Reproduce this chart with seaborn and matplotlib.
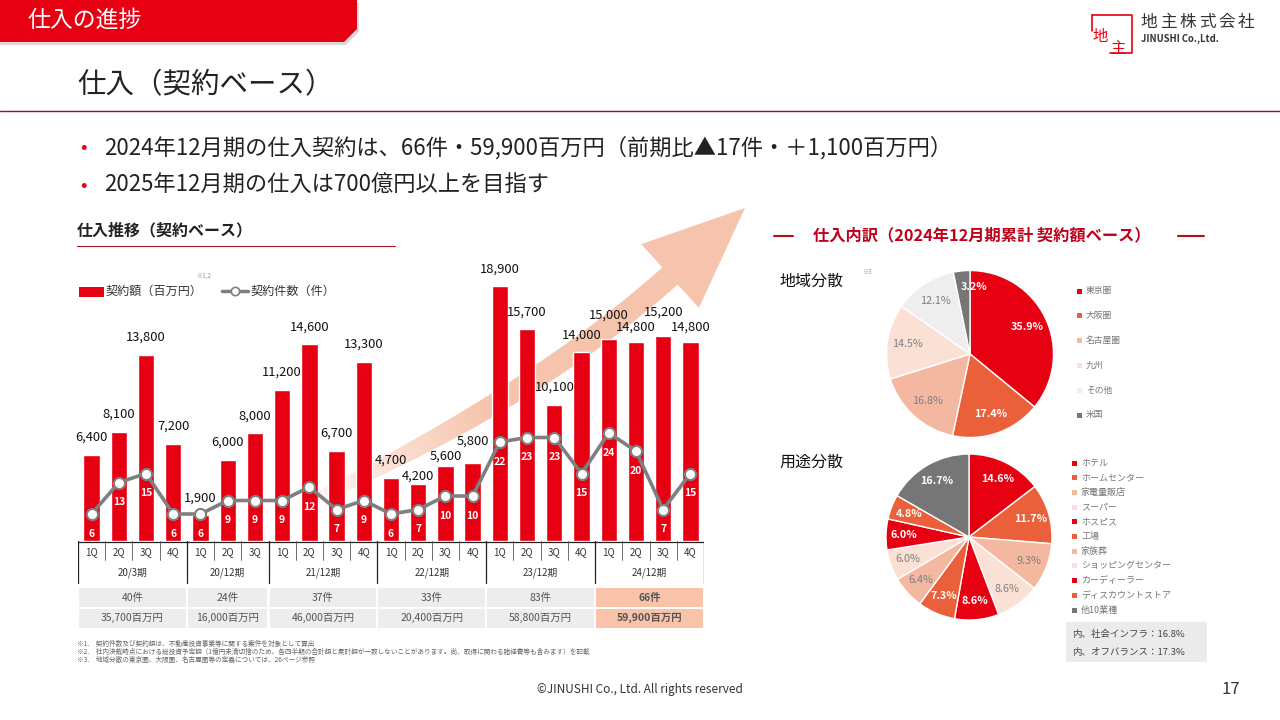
import numpy as np
import pandas as pd
import matplotlib.pyplot as plt
import seaborn as sns
from matplotlib.patches import Polygon, Rectangle

# 四半期ごとの仕入データ（契約ベース）
quarters = ['1Q', '2Q', '3Q', '4Q',
            '1Q', '2Q', '3Q',
            '1Q', '2Q', '3Q', '4Q',
            '1Q', '2Q', '3Q', '4Q',
            '1Q', '2Q', '3Q', '4Q',
            '1Q', '2Q', '3Q', '4Q']
periods = ['20/3期', '20/12期', '21/12期', '22/12期', '23/12期', '24/12期']
period_len = [4, 3, 4, 4, 4, 4]
amounts = [6400, 8100, 13800, 7200,
           1900, 6000, 8000,
           11200, 14600, 6700, 13300,
           4700, 4200, 5600, 5800,
           18900, 15700, 10100, 14000,
           15000, 14800, 15200, 14800]
counts = [6, 13, 15, 6,
          6, 9, 9,
          9, 12, 7, 9,
          6, 7, 10, 10,
          22, 23, 23, 15,
          24, 20, 7, 15]
period_counts = ['40件', '24件', '37件', '33件', '83件', '66件']
period_amounts = ['35,700百万円', '16,000百万円', '46,000百万円',
                  '20,400百万円', '58,800百万円', '59,900百万円']

# 仕入内訳
region_labels = ['東京圏', '大阪圏', '名古屋圏', '九州', 'その他', '米国']
region_share = [35.9, 17.4, 16.8, 14.5, 12.1, 3.2]
use_labels = ['ホテル', 'ホームセンター', '家電量販店', 'スーパー', 'ホスピス', '工場',
              '家族葬', 'ショッピングセンター', 'カーディーラー', 'ディスカウントストア', '他10業種']
use_share = [14.6, 11.7, 9.3, 8.6, 8.6, 7.3, 6.4, 6.0, 6.0, 4.8, 16.7]

# 色
RED = '#E60012'
ORANGE = '#E9603A'
SALMON = '#F4B8A0'
PALE = '#FBE1D5'
LGRAY = '#EEEEEE'
DGRAY = '#767676'
DARKRED = '#B0101A'

sns.set_style('white')
plt.rcParams['font.family'] = ['Noto Sans CJK JP', 'DejaVu Sans']

W, H = 1280, 720
fig = plt.figure(figsize=(12.8, 7.2), dpi=100)

# 背景用の軸（ピクセル座標）
bg = fig.add_axes([0, 0, 1, 1])
bg.set_zorder(0)
bg.axis('off')


def px_axes(x0, y0, x1, y1):
    return fig.add_axes([x0 / W, 1 - y1 / H, (x1 - x0) / W, (y1 - y0) / H])


def txt(x, y, s, **kw):
    kw.setdefault('va', 'center')
    kw.setdefault('color', '#333333')
    bg.text(x, y, s, **kw)


# ヘッダー
shadow = Polygon([(0, 3), (359, 3), (359, 32), (346, 45), (0, 45)], closed=True,
                 facecolor='#999999', alpha=0.35, edgecolor='none')
bg.add_patch(shadow)
banner = Polygon([(0, 0), (357, 0), (357, 29), (344, 42), (0, 42)], closed=True,
                 facecolor=RED, edgecolor='none')
bg.add_patch(banner)
txt(27, 20, '仕入の進捗', color='white', fontsize=16.5)
txt(77, 85, '仕入（契約ベース）', color='#222222', fontsize=20.5)
bg.plot([0, 1280], [111, 111], color='#C00000', lw=1)

# ロゴ
bg.plot([1092, 1092], [31, 15], color=RED, lw=1.2)
bg.plot([1092, 1132, 1132, 1110], [15, 15, 53, 53], color=RED, lw=1.2)
txt(1100, 36, '地', color=RED, fontsize=11, ha='center')
txt(1118, 48, '主', color=RED, fontsize=11, ha='center')
for k, ch in enumerate('地主株式会社'):
    txt(1149 + k * 19.5, 22, ch, fontsize=12, color='#333333', ha='center')
txt(1141, 39, 'JINUSHI Co.,Ltd.', fontsize=6.8, fontweight='bold', color='#333333')

# 箇条書き
txt(80, 148, '•', color=RED, fontsize=14)
txt(104, 148, '2024年12月期の仕入契約は、66件・59,900百万円（前期比▲17件・＋1,100百万円）',
    fontsize=16, color='#222222')
txt(80, 185, '•', color=RED, fontsize=14)
txt(104, 185, '2025年12月期の仕入は700億円以上を目指す', fontsize=16, color='#222222')

# 左：仕入推移
txt(77, 230, '仕入推移（契約ベース）', fontsize=11.5, fontweight='bold', color='#222222')
bg.plot([77, 395], [246, 246], color=DARKRED, lw=0.8)
bg.add_patch(Rectangle((79, 287), 25, 10, facecolor=RED, edgecolor='none'))
txt(106, 291, '契約額（百万円）', fontsize=8.7)
txt(196, 276, '※1,2', fontsize=4.5, color='#999999')
bg.plot([222, 248], [291, 291], color='#7F7F7F', lw=2.5)
bg.plot([235], [291], marker='o', markersize=6, markerfacecolor='white',
        markeredgecolor='#7F7F7F', markeredgewidth=1.2)
txt(251, 291, '契約件数（件）', fontsize=8.7)

# 右上がりの矢印（グラデーション）
P0 = np.array([295., 508.])
C = np.array([529., 402.])
P1 = np.array([670., 276.])
tip = np.array([745., 208.])
t = np.linspace(0, 1, 80)[:, None]
pts = (1 - t) ** 2 * P0 + 2 * (1 - t) * t * C + t ** 2 * P1
der = 2 * (1 - t) * (C - P0) + 2 * t * (P1 - C)
der = der / np.linalg.norm(der, axis=1)[:, None]
nrm = np.column_stack([-der[:, 1], der[:, 0]])
half = 11.5 - 7 * (1 - t) ** 3
side_a = pts + nrm * half
side_b = pts - nrm * half
d = (tip - P1) / np.linalg.norm(tip - P1)
n = np.array([-d[1], d[0]])
outline = np.vstack([side_a, [P1 + n * 43], [tip], [P1 - n * 43], side_b[::-1]])
arrow_poly = Polygon(outline, closed=True, facecolor='none', edgecolor='none')
bg.add_patch(arrow_poly)
yy, xx = np.mgrid[0:H, 0:W]
v = tip - P0
proj = ((xx - P0[0]) * v[0] + (yy - P0[1]) * v[1]) / (v @ v)
img = np.zeros((H, W, 4))
img[..., 0] = 246 / 255
img[..., 1] = 196 / 255
img[..., 2] = 172 / 255
img[..., 3] = 0.08 + 0.92 * np.clip(proj / 0.4, 0, 1)
im = bg.imshow(img, extent=(0, W, H, 0), aspect='auto', interpolation='bilinear', zorder=0.5)
im.set_clip_path(arrow_poly)
bg.set_xlim(0, W)
bg.set_ylim(H, 0)

# 棒グラフ + 折れ線
df = pd.DataFrame({'slot': [f'{i:02d}' for i in range(len(amounts))],
                   'amount': amounts, 'count': counts, 'pos': np.arange(len(amounts))})

ax = px_axes(78, 262, 704, 541)
ax.set_zorder(2)
ax.patch.set_visible(False)
sns.barplot(data=df, x='slot', y='amount', color=RED, saturation=1, width=0.6, ax=ax)
ax.set_xlim(-0.5, len(amounts) - 0.5)
ax.set_ylim(0, 20700)
ax.axis('off')

# 重なりを避けるため、隣り合うラベルは高さをずらす（ポイント）
lift = {12: 6.2, 13: 7.0, 14: 15.8, 19: 17.0, 20: 10.0, 21: 17.3, 22: 10.0}
for i, a in enumerate(amounts):
    ax.annotate(f'{a:,}', (i, a), xytext=(0, lift.get(i, 12.6)), textcoords='offset points',
                ha='center', va='center', fontsize=9.3, color='#111111')

ax2 = ax.twinx()
ax2.set_zorder(3)
ax2.patch.set_visible(False)
sns.lineplot(data=df, x='pos', y='count', ax=ax2, color='#7F7F7F', lw=2.6,
             marker='o', markersize=8, markerfacecolor='white',
             markeredgecolor='#7F7F7F', markeredgewidth=1.5)
ax2.set_ylim(0, 62)
ax2.set_xlim(-0.5, len(amounts) - 0.5)
ax2.axis('off')
for i, c in enumerate(counts):
    ax2.text(i, c - 4.4, str(c), ha='center', va='center', fontsize=7.5,
             color='white', fontweight='bold')

# 期間の表
axt = px_axes(78, 541, 704, 632)
axt.set_xlim(-0.5, len(amounts) - 0.5)
axt.set_ylim(632, 541)
axt.axis('off')
axt.plot([-0.5, len(amounts) - 0.5], [541.5, 541.5], color='#222222', lw=0.9)
for i, q in enumerate(quarters):
    axt.text(i, 552, q, ha='center', va='center', fontsize=7, color='#333333')
start = 0
bounds = [-0.5]
for p, k in zip(periods, period_len):
    for j in range(1, k):
        axt.plot([start + j - 0.5] * 2, [541, 560], color='#555555', lw=0.6)
    axt.text(start + k / 2 - 0.5, 573, p, ha='center', va='center', fontsize=7, color='#333333')
    start += k
    bounds.append(start - 0.5)
for b in bounds:
    axt.plot([b, b], [541, 583], color='#222222', lw=0.9)
for g in range(len(periods)):
    fc = '#F8C3A8' if g == len(periods) - 1 else '#EDEDED'
    fw = 'bold' if g == len(periods) - 1 else 'normal'
    x0 = bounds[g] + 0.04
    wdt = bounds[g + 1] - bounds[g] - 0.08
    axt.add_patch(Rectangle((x0, 588), wdt, 19, facecolor=fc, edgecolor='none'))
    axt.add_patch(Rectangle((x0, 608.5), wdt, 19.5, facecolor=fc, edgecolor='none'))
    xm = (bounds[g] + bounds[g + 1]) / 2
    axt.text(xm, 597.5, period_counts[g], ha='center', va='center', fontsize=7.5,
             color='#555555', fontweight=fw)
    axt.text(xm, 618, period_amounts[g], ha='center', va='center', fontsize=7.5,
             color='#555555', fontweight=fw)

# 注記
notes = ['※1.　契約件数及び契約額は、不動産投資事業等に関する案件を対象として算出',
         '※2.　社内決裁時点における総投資予定額（1億円未満切捨のため、各四半期の合計額と累計額が一致しないことがあります。尚、取得に関わる諸経費等も含みます）を記載',
         '※3.　地域分散の東京圏、大阪圏、名古屋圏等の定義については、26ページ参照']
for k, s in enumerate(notes):
    txt(77, 644 + k * 8, s, fontsize=4.8, color='#666666')

# 右：仕入内訳
bg.plot([774, 793], [236, 236], color=DARKRED, lw=1.5)
bg.plot([1178, 1204], [236, 236], color=DARKRED, lw=1.5)
txt(982, 235, '仕入内訳（2024年12月期累計 契約額ベース）', fontsize=11.7,
    fontweight='bold', color='#C0001A', ha='center')
txt(779, 281, '地域分散', fontsize=11.5, color='#111111')
txt(862, 272, '※3', fontsize=4.5, color='#999999')
txt(779, 462, '用途分散', fontsize=11.5, color='#111111')

region_colors = [RED, ORANGE, SALMON, PALE, LGRAY, DGRAY]
use_colors = [RED, ORANGE, SALMON, PALE, RED, ORANGE, SALMON, PALE, RED, ORANGE, DGRAY]
white_on = {RED, ORANGE, DGRAY}


def draw_pie(cx, cy, r, shares, colors, dist):
    pax = px_axes(cx - r, cy - r, cx + r, cy + r)
    wedges, _ = pax.pie(shares, colors=colors, startangle=90, counterclock=False,
                        wedgeprops=dict(edgecolor='white', linewidth=1))
    pax.set_xlim(-1, 1)
    pax.set_ylim(-1, 1)
    for w, s, c in zip(wedges, shares, colors):
        ang = np.deg2rad((w.theta1 + w.theta2) / 2)
        rr = dist + 0.05 if s < 4 else dist
        x, y = rr * np.cos(ang), rr * np.sin(ang)
        if s < 4:
            x += 0.13  # 細いスライスのラベルは右へ
        white = c in white_on
        pax.text(x, y, f'{s:.1f}%', ha='center', va='center',
                 fontsize=7.8, color='white' if white else '#7F7F7F',
                 fontweight='bold' if white else 'normal')


draw_pie(970, 354, 83.5, region_share, region_colors, 0.76)
draw_pie(969, 537, 83, use_share, use_colors, 0.78)

for k, (lab, c) in enumerate(zip(region_labels, region_colors)):
    y = 291 + k * 24.8
    bg.add_patch(Rectangle((1077, y - 2.5), 5, 5, facecolor=c, edgecolor='none'))
    txt(1086, y, lab, fontsize=6.3, color='#777777')
for k, (lab, c) in enumerate(zip(use_labels, use_colors)):
    y = 463 + k * 14.7
    bg.add_patch(Rectangle((1072, y - 2.5), 5, 5, facecolor=c, edgecolor='none'))
    txt(1081, y, lab, fontsize=6.5, color='#777777')

bg.add_patch(Rectangle((1066, 622), 141, 40, facecolor='#EBEBEB', edgecolor='none'))
txt(1072, 634, '内、社会インフラ：16.8%', fontsize=6.8, color='#444444')
txt(1072, 652, '内、オフバランス：17.3%', fontsize=6.8, color='#444444')

# フッター
txt(640, 690, '©JINUSHI Co., Ltd. All rights reserved', fontsize=8.5, ha='center', color='#333333')
txt(1231, 690, '17', fontsize=12, ha='center', color='#333333')

fig.savefig('out.png', dpi=100)
